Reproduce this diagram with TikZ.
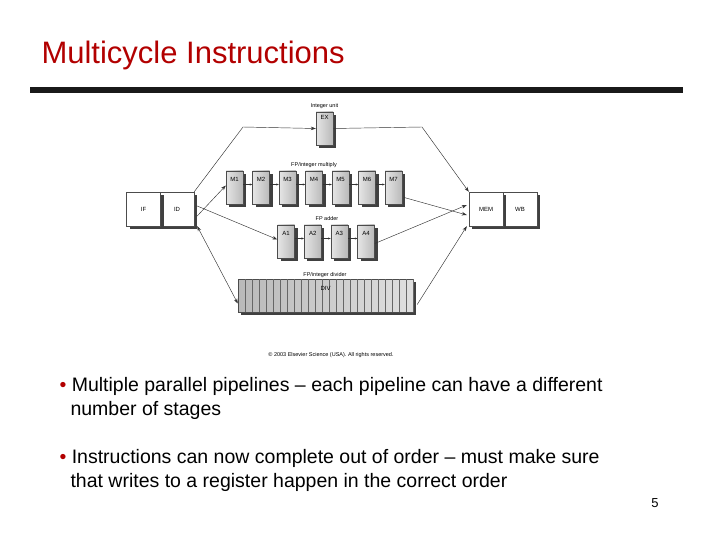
\documentclass[tikz,border=0pt]{standalone}
\usepackage{fontspec}
\setmainfont{Liberation Sans}
\usetikzlibrary{shadows,arrows.meta}
\begin{document}
\begin{tikzpicture}[x=1pt,y=-1pt,
  unit/.style={draw=black!70, line width=0.4pt, left color=gray!20, right color=gray!55, minimum width=17pt, minimum height=33pt, inner sep=0pt,
    drop shadow={shadow xshift=3pt, shadow yshift=-3pt, fill=black!75, opacity=1}},
  wbox/.style={draw=black!70, fill=white, line width=0.4pt, minimum width=34pt, minimum height=34pt, inner sep=0pt,
    drop shadow={shadow xshift=3pt, shadow yshift=-3pt, fill=black!75, opacity=1}},
  lab/.style={font=\fontsize{6}{7}\selectfont},
  captext/.style={font=\fontsize{5.5}{6.5}\selectfont},
  conn/.style={draw=black!80, line width=0.45pt, -{Stealth[length=5pt,width=3.5pt]}},
  bullet/.style={anchor=west, font=\fontsize{19.5}{24}\selectfont, align=left}]
\useasboundingbox (0,0) rectangle (720,540);
% title
\node[anchor=west, text=red!70!black, font=\fontsize{31}{34}\selectfont] (title) at (38,55) {Multicycle Instructions};
\fill[black!90] (30,87) rectangle (683,93);
% IF ID
\node[wbox] (ID) at (177,209) {};
\node[wbox, draw=black!70] (IF) at (143.5,209) {};
\node[lab] at (IF) {IF};
\node[lab] at (ID) {ID};
% MEM WB
\node[wbox] (WB) at (520,209) {};
\node[wbox] (MEM) at (486,209) {};
\node[lab] at (MEM) {MEM};
\node[lab] at (WB) {WB};
% EX
\node[captext] (iu) at (324.5,106) {Integer unit};
\node[unit] (EX) at (324.5,128.5) {};
\node[lab, anchor=north] at (EX.north) {EX};
% multiply
\node[captext] (mul) at (314,165) {FP/integer multiply};
\foreach \i in {1,...,7}{
  \node[unit] (M\i) at ({234.5+26.5*(\i-1)},187.5) {};
  \node[lab, anchor=north, yshift=-3pt] at (M\i.north) {M\i};
}
\foreach \i [evaluate=\i as \j using int(\i+1)] in {1,...,6}{
  \draw[conn, -{Stealth[length=2.5pt,width=2pt]}] ([yshift=3pt]M\i.east) -- ([yshift=3pt]M\j.west);
}
% adder
\node[captext] (add) at (327,219) {FP adder};
\foreach \i in {1,...,4}{
  \node[unit] (A\i) at ({286+26.7*(\i-1)},241.5) {};
  \node[lab, anchor=north, yshift=-3pt] at (A\i.north) {A\i};
}
\foreach \i [evaluate=\i as \j using int(\i+1)] in {1,...,3}{
  \draw[conn, -{Stealth[length=2.5pt,width=2pt]}] ([yshift=3pt]A\i.east) -- ([yshift=3pt]A\j.west);
}
% divider
\node[captext] (dl) at (325,275) {FP/integer divider};
\node[unit, minimum width=175pt, minimum height=33pt, left color=gray!55, right color=gray!25] (DIV) at (325.5,295.5) {};
\foreach \k in {1,...,25}{
  \draw[black!60, line width=0.3pt] ({238+7*\k},279) -- ({238+7*\k},312);
}
\node[lab, anchor=north, yshift=-4pt] at (DIV.north) {DIV};
% connectors
\coordinate (c1) at (243,127);
\coordinate (c2) at (422,127);
\draw[conn] (ID.north east) -- (c1) -- (EX.west);
\draw[conn] (EX.east) -- (c2) -- (MEM.north west);
\draw[conn] ([yshift=-7pt,xshift=3pt]ID.east) -- ([yshift=2pt]M1.west);
\draw[conn] ([yshift=3pt,xshift=3pt]ID.east) -- ([yshift=2pt]A1.west);
\draw[conn, {Stealth[length=5pt,width=3.5pt]}-{Stealth[length=5pt,width=3.5pt]}] ([xshift=3pt]ID.south east) -- ([yshift=-8pt]DIV.west);
\draw[conn] ([yshift=-10pt,xshift=2pt]M7.east) -- ([yshift=-6pt,xshift=-2pt]MEM.west);
\draw[conn] ([yshift=-2pt]A4.east) -- ([yshift=4pt,xshift=-2pt]MEM.west);
\draw[conn] ([yshift=-9pt,xshift=4pt]DIV.east) -- ([xshift=-2pt]MEM.south west);
\node[captext] (copy) at (331,355) {© 2003 Elsevier Science (USA). All rights reserved.};
% bullets
\node[bullet] (b1) at (56,398) {{\color{red!70!black}•} Multiple parallel pipelines -- each pipeline can have a different\\\hspace*{11pt}number of stages};
\node[bullet] (b2) at (56,470.5) {{\color{red!70!black}•} Instructions can now complete out of order -- must make sure\\\hspace*{11pt}that writes to a register happen in the correct order};
\node[font=\fontsize{13}{15}\selectfont\rmfamily] (pg) at (655,503) {5};
\end{tikzpicture}
\end{document}
